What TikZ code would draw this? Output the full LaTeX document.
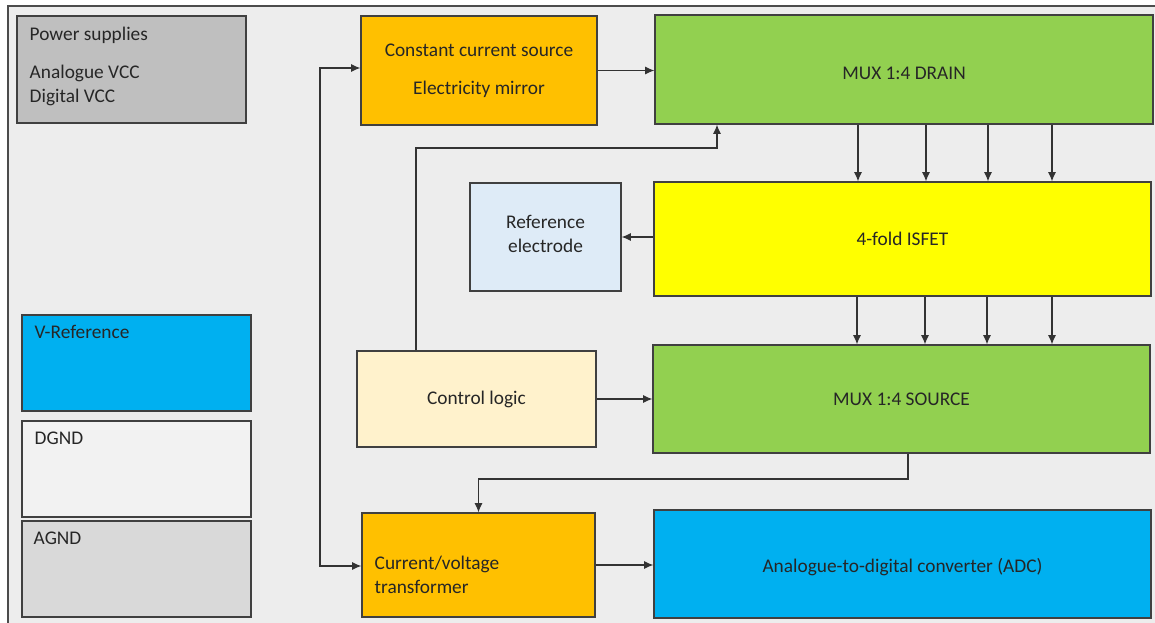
\documentclass[tikz,border=0pt]{standalone}
\usepackage{fontspec}
\setmainfont{Carlito}
\usetikzlibrary{arrows.meta, positioning}
\definecolor{bggray}{HTML}{EDEDED}
\definecolor{pwrgray}{HTML}{BFBFBF}
\definecolor{skyblue}{HTML}{00B0F0}
\definecolor{dgndgray}{HTML}{F2F2F2}
\definecolor{agndgray}{HTML}{D9D9D9}
\definecolor{amber}{HTML}{FFC000}
\definecolor{leafgreen}{HTML}{92D050}
\definecolor{paleblue}{HTML}{DEEBF7}
\definecolor{cream}{HTML}{FFF2CC}
\definecolor{lemon}{HTML}{FFFF00}
\definecolor{brdgray}{HTML}{404040}
\newcommand{\px}{0.75pt}

\begin{document}
\begin{tikzpicture}[x=0.75pt, y=-0.75pt, >={Latex[length=7pt,width=6pt]},
  Block/.style 2 args={draw=brdgray, line width=0.8pt, rectangle, inner sep=0pt, minimum width=#1*\px, minimum height=#2*\px, text=black!85, font=\fontsize{14.5}{18}\selectfont, align=center},
  Tag/.style={anchor=north west, inner sep=0pt, align=left, text=black!85, font=\fontsize{14.5}{18}\selectfont},
  Arr/.style={->, draw=black!80, line width=0.9pt}]
% frame and background
\useasboundingbox (0,0) rectangle (1155,622);
\draw[fill=bggray, draw=black!70, line width=0.8pt] (8,6) rectangle (1170,640);
% supply blocks on the left
\node[Block={229}{107}, fill=pwrgray, label={[Tag, xshift=13*\px, yshift=-11*\px]north west:{Power supplies\\[10.5pt]Analogue VCC\\Digital VCC}}] (pwr) at (131.5,69.5) {};
\node[Block={229}{96}, fill=skyblue, label={[Tag, xshift=13*\px, yshift=-11*\px]north west:{V-Reference}}] (vref) at (136.5,363) {};
\node[Block={229}{96}, fill=dgndgray, label={[Tag, xshift=13*\px, yshift=-11*\px]north west:{DGND}}] (dgnd) at (136.5,469) {};
\node[Block={229}{96}, fill=agndgray, label={[Tag, xshift=12*\px, yshift=-11*\px]north west:{AGND}}] (agnd) at (136.5,569) {};
% signal chain
\node[Block={236}{109}, fill=amber] (ccs) at (479,70.5) {Constant current source\\[10.5pt]Electricity mirror};
\node[Block={498}{109}, fill=leafgreen, text height=15pt] (muxd) at (904,69.5) {MUX 1:4 DRAIN};
\node[Block={151}{108}, fill=paleblue, text depth=4pt] (refel) at (545.5,237) {Reference\\electrode};
\node[Block={497}{114}, fill=lemon] (isfet) at (902.5,239) {4-fold ISFET};
\node[Block={239}{96}, fill=cream] (ctrl) at (476.5,399) {Control logic};
\node[Block={497}{108}, fill=leafgreen] (muxs) at (901.5,399) {MUX 1:4 SOURCE};
\node[Block={233}{104}, fill=amber, label={[Tag, anchor=west, xshift=13*\px, yshift=-10*\px]west:{Current/voltage\\transformer}}] (cvt) at (478.5,565) {};
\node[Block={497}{108}, fill=skyblue, text height=15pt] (adc) at (902.5,564) {Analogue-to-digital converter (ADC)};
% connectors
\coordinate (busT) at (320,68);
\coordinate (busB) at (320,566);
\draw[Arr, <->] (busT -| ccs.west) -- (busT) -- (busB) -- (busB -| cvt.west);
\draw[Arr] (ccs.east) -- (ccs.east -| muxd.west);
\coordinate (ctlA) at (416,148);
\coordinate (ctlB) at (717,148);
\draw[Arr] (ctrl.north -| ctlA) -- (ctlA) -- (ctlB) -- (ctlB |- muxd.south);
\foreach \x in {858,926,988,1052}
  \draw[Arr] (muxd.south -| \x,0) -- (isfet.north -| \x,0);
\foreach \x in {857,925,987,1052}
  \draw[Arr] (isfet.south -| \x,0) -- (muxs.north -| \x,0);
\draw[Arr] (refel.east -| isfet.west) -- (refel.east);
\draw[Arr] (ctrl.east) -- (muxs.west);
\coordinate (srcA) at (908,479);
\draw[Arr] (muxs.south -| srcA) -- (srcA) -| (cvt.north);
\draw[Arr] (cvt.east) -- (cvt.east -| adc.west);
\end{tikzpicture}
\end{document}
